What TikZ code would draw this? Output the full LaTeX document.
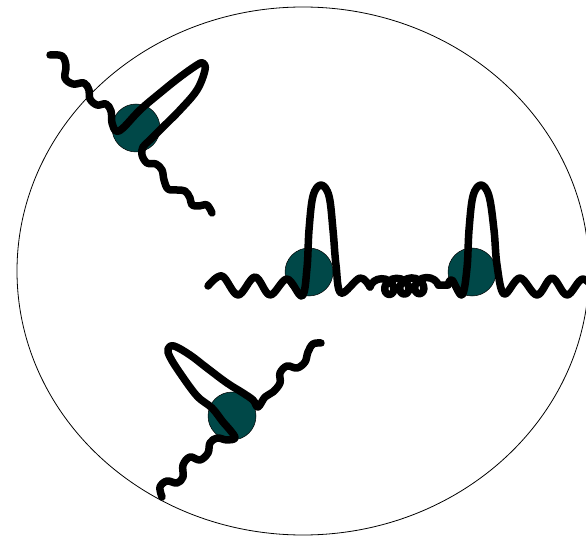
\documentclass[tikz,border=0pt]{standalone}
\usetikzlibrary{decorations.pathmorphing}
\definecolor{beadteal}{RGB}{0,72,72}
\tikzset{
  strand/.style={line width=7.5pt, line cap=round, line join=round},
  bead/.style={circle, draw=black, line width=0.5pt, fill=beadteal, minimum size=48pt, inner sep=0pt},
}
\begin{document}
\begin{tikzpicture}[x=1pt, y=-1pt]
\useasboundingbox (0,0) rectangle (586,537);
\clip (0,0) rectangle (586,537);
% cell outline
\draw[line width=0.8pt] (303,271) ellipse [x radius=286pt, y radius=264pt];
% beads
\node[bead] (b1) at (136,128) {};
\node[bead] (b2) at (309,272) {};
\node[bead] (b3) at (472,272) {};
\node[bead] (b4) at (232,416) {};
% upper left strand with its hairpin
\draw[strand] plot[smooth, tension=0.6] coordinates {(50,55) (62,56) (66,66) (65,78) (73,84) (84,83) (89,90) (90,99) (97,105) (106,104) (111,111) (112,123) (116,131) (123,128) (140,110) (160,93) (180,77) (197,65) (203,63) (205,70) (197,90) (180,110) (163,127) (150,140) (143,147) (142,155) (147,163) (156,164) (162,170) (164,180) (168,189) (177,190) (185,191) (190,198) (192,205) (199,206) (207,205) (212,213)};
% middle strand, two hairpins and a coiled piece between them
\draw[strand] plot[smooth, tension=0.6] coordinates {(208,286) (222,276) (238,295) (255,277) (270,295) (287,279) (302,296) (307,268) (309,230) (313,196) (321,185) (329,196) (333,230) (336,265) (341,293) (360,278) (370,287)};
\draw[strand, decorate, decoration={coil, amplitude=8pt, segment length=15pt, aspect=1}] (370,287) -- (448,285);
\draw[strand] plot[smooth, tension=0.6] coordinates {(448,285) (452,280) (462,295) (467,268) (469,230) (473,196) (481,185) (489,196) (494,230) (497,265) (504,294) (520,278) (537,295) (552,278) (567,295) (583,279) (599,295)};
% lower strand
\draw[strand] plot[smooth, tension=0.6] coordinates {(162,497) (160,487) (167,481) (177,483) (183,477) (183,465) (190,457) (200,460) (208,453) (210,443) (217,438) (227,440) (235,438) (230,430) (223,422) (212,408) (197,396) (180,373) (170,357) (168,349) (174,346) (190,355) (207,368) (227,383) (243,393) (253,400) (258,407) (265,397) (273,392) (280,383) (280,373) (287,366) (297,368) (305,362) (308,352) (313,344) (321,343)};
\end{tikzpicture}
\end{document}
